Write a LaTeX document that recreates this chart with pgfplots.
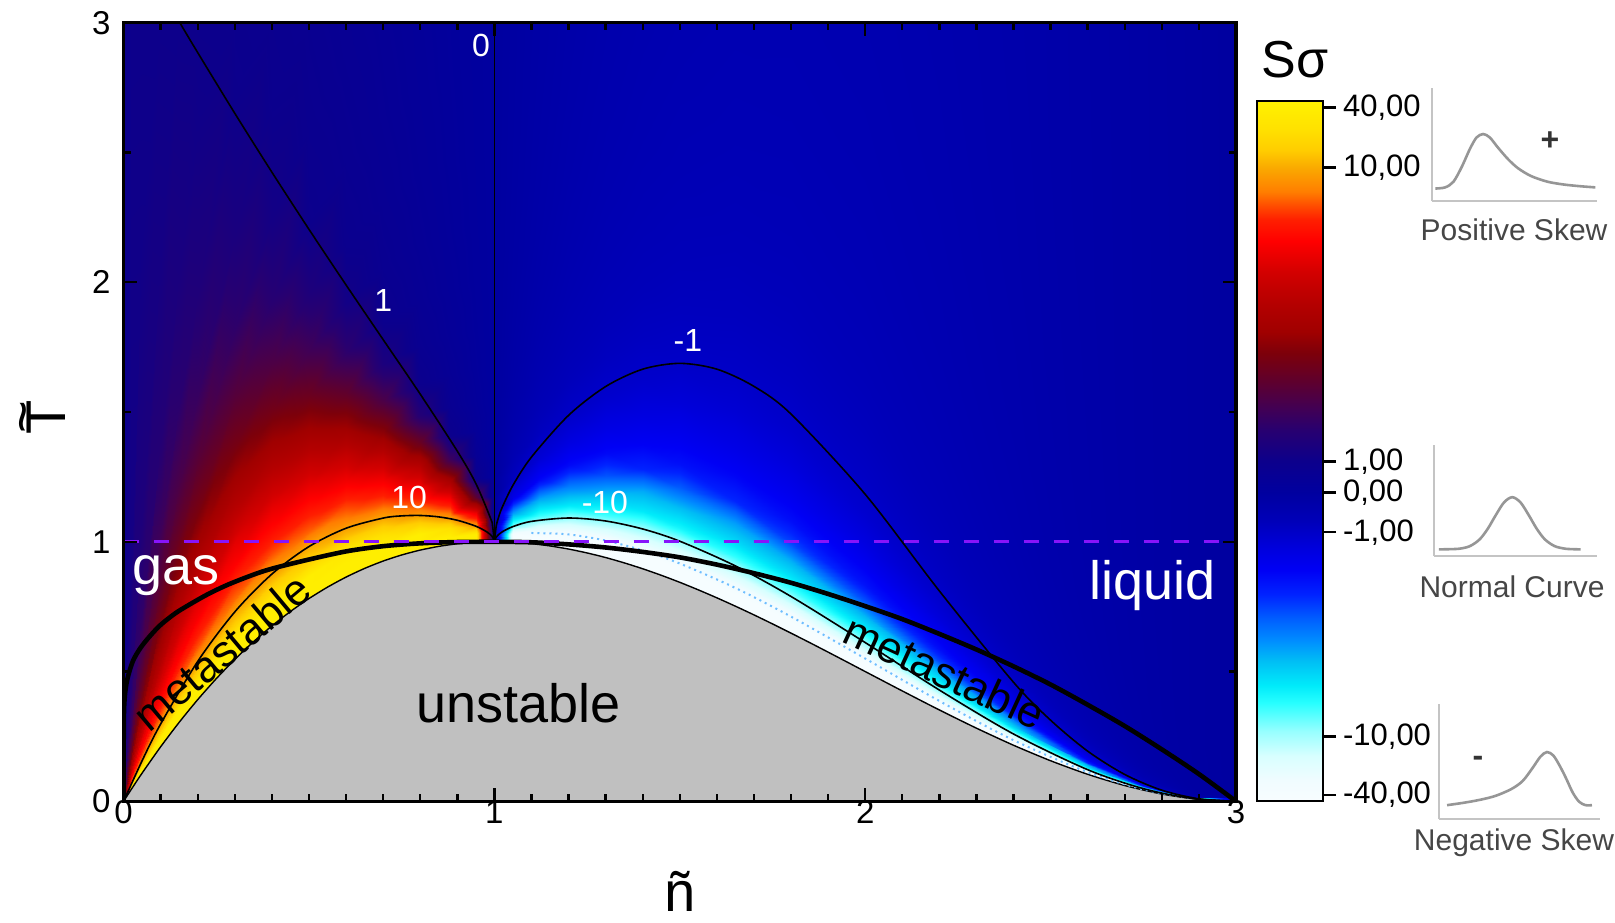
\documentclass[border=0pt]{standalone}
\usepackage{fontspec}
\setmainfont{Liberation Sans}
\usepackage{pgfplots}
\usepackage{pgfplotstable}
\pgfplotsset{compat=1.18}

\definecolor{unstablegray}{RGB}{192,192,192}
\definecolor{critline}{RGB}{135,20,250}
\definecolor{deepdot}{RGB}{110,190,255}
\definecolor{insetaxis}{RGB}{196,196,196}
\definecolor{insetcurve}{RGB}{150,150,150}
\definecolor{insettext}{RGB}{70,70,70}

% colour scale, positions along the bar (0 = bottom, 1000 = top)
\pgfplotsset{
  colormap={skew}{
    rgb255(0pt)=(248,253,255) rgb255(30pt)=(240,252,255) rgb255(65pt)=(215,255,255)
    rgb255(100pt)=(150,255,255) rgb255(140pt)=(40,255,255) rgb255(165pt)=(0,235,250)
    rgb255(200pt)=(0,190,245) rgb255(230pt)=(0,140,255) rgb255(260pt)=(0,95,255)
    rgb255(295pt)=(0,35,255) rgb255(330pt)=(0,0,245) rgb255(360pt)=(0,0,222)
    rgb255(400pt)=(0,0,185) rgb255(440pt)=(0,0,160) rgb255(485pt)=(12,0,140)
    rgb255(530pt)=(40,0,112) rgb255(560pt)=(65,0,85) rgb255(600pt)=(95,0,45)
    rgb255(640pt)=(125,0,10) rgb255(670pt)=(160,0,0) rgb255(710pt)=(180,0,0)
    rgb255(755pt)=(210,0,0) rgb255(800pt)=(255,0,0) rgb255(830pt)=(255,30,0)
    rgb255(850pt)=(255,75,0) rgb255(870pt)=(255,125,0) rgb255(905pt)=(250,170,0)
    rgb255(930pt)=(255,205,0) rgb255(960pt)=(255,225,0) rgb255(1000pt)=(255,242,0)
  }
}

% S sigma over the (n, T) plane, one scanline per density
\pgfplotstableread{
n t s
0 3.05 1
0 0.888 1
0 0.444 1
0 0.296 1
0 0.222 1
0 0.1776 1
0 0.148 1
0 0.1269 1
0 0.111 1
0 0.0987 1
0 0.0888 1
0 0.0807 1
0 0.074 1
0 0.0683 1
0 0.0634 1
0 0.0592 1
0 0.0555 1
0 0.0522 1
0 0.0493 1
0 0.0472 1
0 0.0458 1
0 0.0448 1
0 0 1
0.02 3.05 1.0024
0.02 0.888 1.0786
0.02 0.444 1.2018
0.02 0.296 1.3474
0.02 0.222 1.521
0.02 0.1776 1.7306
0.02 0.148 1.9867
0.02 0.1269 2.3041
0.02 0.111 2.7041
0.02 0.0987 3.2181
0.02 0.0888 3.8939
0.02 0.0807 4.8073
0.02 0.074 6.0842
0.02 0.0683 7.9467
0.02 0.0634 10.816
0.02 0.0592 15.576
0.02 0.0555 24.337
0.02 0.0522 43.265
0.02 0.0493 97.35
0.02 0.0472 270.4
0.02 0.0458 1081.6
0.02 0.0448 9734.7
0.02 0.0444 9999
0.05 3.05 1.0045
0.05 2.1756 1.0351
0.05 1.0878 1.1533
0.05 0.7252 1.293
0.05 0.5439 1.4596
0.05 0.4351 1.6608
0.05 0.3626 1.9065
0.05 0.3108 2.2111
0.05 0.272 2.5949
0.05 0.2417 3.0882
0.05 0.2176 3.7367
0.05 0.1978 4.6132
0.05 0.1813 5.8386
0.05 0.1674 7.6259
0.05 0.1554 10.38
0.05 0.145 14.947
0.05 0.136 23.354
0.05 0.128 41.519
0.05 0.1209 93.42
0.05 0.1157 259.5
0.05 0.1121 1038
0.05 0.1099 9342
0.05 0.1088 9999
0.1 3.05 1.0036
0.1 3.05 1.0036
0.1 2.1025 1.0741
0.1 1.4017 1.2042
0.1 1.0513 1.3594
0.1 0.841 1.5467
0.1 0.7008 1.7755
0.1 0.6007 2.0592
0.1 0.5256 2.4167
0.1 0.4672 2.876
0.1 0.4205 3.48
0.1 0.3823 4.2963
0.1 0.3504 5.4375
0.1 0.3235 7.1021
0.1 0.3004 9.6667
0.1 0.2803 13.92
0.1 0.2628 21.75
0.1 0.2474 38.667
0.1 0.2336 87
0.1 0.2237 241.7
0.1 0.2168 966.7
0.1 0.2124 8700
0.1 0.2103 9999
0.15 3.05 0.9966
0.15 3.05 0.9966
0.15 3.046 0.9969
0.15 2.0306 1.1177
0.15 1.523 1.2617
0.15 1.2184 1.4356
0.15 1.0153 1.6479
0.15 0.8703 1.9113
0.15 0.7615 2.2431
0.15 0.6769 2.6694
0.15 0.6092 3.23
0.15 0.5538 3.9877
0.15 0.5077 5.0469
0.15 0.4686 6.5919
0.15 0.4351 8.9722
0.15 0.4061 12.92
0.15 0.3807 20.188
0.15 0.3583 35.889
0.15 0.3384 80.75
0.15 0.324 224.3
0.15 0.314 897.2
0.15 0.3077 8075
0.15 0.3046 9999
0.2 3.05 0.9831
0.2 3.05 0.9831
0.2 3.05 0.9831
0.2 2.6133 1.0335
0.2 1.96 1.1667
0.2 1.568 1.3274
0.2 1.3067 1.5238
0.2 1.12 1.7673
0.2 0.98 2.0741
0.2 0.8711 2.4683
0.2 0.784 2.9867
0.2 0.7127 3.6873
0.2 0.6533 4.6667
0.2 0.6031 6.0953
0.2 0.56 8.2963
0.2 0.5227 11.947
0.2 0.49 18.667
0.2 0.4612 33.185
0.2 0.4356 74.67
0.2 0.417 207.4
0.2 0.4041 829.6
0.2 0.396 7467
0.2 0.392 9999
0.3 3.05 0.9353
0.3 3.05 0.9353
0.3 3.05 0.9353
0.3 3.05 0.9353
0.3 2.7338 0.9844
0.3 2.187 1.12
0.3 1.8225 1.2857
0.3 1.5621 1.4911
0.3 1.3669 1.75
0.3 1.215 2.0827
0.3 1.0935 2.52
0.3 0.9941 3.1111
0.3 0.9113 3.9375
0.3 0.8412 5.1429
0.3 0.7811 7.0
0.3 0.729 10.08
0.3 0.6834 15.75
0.3 0.6432 28.0
0.3 0.6075 63
0.3 0.5816 175
0.3 0.5637 700
0.3 0.5523 6300
0.3 0.5468 9999
0.4 3.05 0.8583
0.4 3.05 0.8583
0.4 3.05 0.8583
0.4 3.05 0.8583
0.4 3.05 0.8583
0.4 2.704 0.9244
0.4 2.2533 1.0612
0.4 1.9314 1.2308
0.4 1.69 1.4444
0.4 1.5022 1.719
0.4 1.352 2.08
0.4 1.2291 2.5679
0.4 1.1267 3.25
0.4 1.04 4.2449
0.4 0.9657 5.7778
0.4 0.9013 8.32
0.4 0.845 13
0.4 0.7953 23.111
0.4 0.7511 52
0.4 0.7191 144.4
0.4 0.6969 577.8
0.4 0.6828 5200
0.4 0.676 9999
0.5 3.05 0.753
0.5 3.05 0.753
0.5 3.05 0.753
0.5 3.05 0.753
0.5 3.05 0.753
0.5 3.05 0.753
0.5 2.6042 0.8503
0.5 2.2321 0.9862
0.5 1.9531 1.1574
0.5 1.7361 1.3774
0.5 1.5625 1.6667
0.5 1.4205 2.0576
0.5 1.3021 2.6042
0.5 1.2019 3.4014
0.5 1.1161 4.6296
0.5 1.0417 6.6667
0.5 0.9766 10.417
0.5 0.9191 18.518
0.5 0.8681 41.67
0.5 0.8311 115.7
0.5 0.8054 463
0.5 0.7891 4167
0.5 0.7813 9999
0.6 3.05 0.6229
0.6 3.05 0.6229
0.6 3.05 0.6229
0.6 3.05 0.6229
0.6 3.05 0.6229
0.6 3.05 0.6229
0.6 2.88 0.6531
0.6 2.4686 0.7574
0.6 2.16 0.8889
0.6 1.92 1.0579
0.6 1.728 1.28
0.6 1.5709 1.5803
0.6 1.44 2.0
0.6 1.3292 2.6122
0.6 1.2343 3.5556
0.6 1.152 5.12
0.6 1.08 8.0
0.6 1.0165 14.222
0.6 0.96 32
0.6 0.9191 88.89
0.6 0.8907 355.6
0.6 0.8727 3200
0.6 0.864 9999
0.7 3.05 0.4742
0.7 3.05 0.4742
0.7 3.05 0.4742
0.7 3.05 0.4742
0.7 3.05 0.4742
0.7 3.05 0.4742
0.7 3.05 0.4742
0.7 2.645 0.5444
0.7 2.3144 0.6389
0.7 2.0572 0.7603
0.7 1.8515 0.92
0.7 1.6832 1.1358
0.7 1.5429 1.4375
0.7 1.4242 1.8776
0.7 1.3225 2.5556
0.7 1.2343 3.68
0.7 1.1572 5.75
0.7 1.0891 10.222
0.7 1.0286 23
0.7 0.9848 63.89
0.7 0.9544 255.6
0.7 0.9351 2300
0.7 0.9258 9999
0.8 3.05 0.3148
0.8 3.05 0.3148
0.8 3.05 0.3148
0.8 3.05 0.3148
0.8 3.05 0.3148
0.8 3.05 0.3148
0.8 3.05 0.3148
0.8 2.7657 0.3471
0.8 2.42 0.4074
0.8 2.1511 0.4849
0.8 1.936 0.5867
0.8 1.76 0.7243
0.8 1.6133 0.9167
0.8 1.4892 1.1973
0.8 1.3829 1.6297
0.8 1.2907 2.3467
0.8 1.21 3.6667
0.8 1.1388 6.5185
0.8 1.0756 14.667
0.8 1.0298 40.74
0.8 0.9979 163
0.8 0.9778 1467
0.8 0.968 9999
0.88 3.05 0.1857
0.88 3.05 0.1857
0.88 3.05 0.1857
0.88 3.05 0.1857
0.88 3.05 0.1857
0.88 3.05 0.1857
0.88 3.05 0.1857
0.88 2.8251 0.2007
0.88 2.4719 0.2356
0.88 2.1973 0.2803
0.88 1.9775 0.3392
0.88 1.7978 0.4188
0.88 1.648 0.53
0.88 1.5212 0.6922
0.88 1.4125 0.9422
0.88 1.3184 1.3568
0.88 1.236 2.12
0.88 1.1633 3.7689
0.88 1.0986 8.48
0.88 1.0519 23.56
0.88 1.0194 94.22
0.88 0.9988 848
0.88 0.9888 9999
0.95 3.05 0.0755
0.95 3.05 0.0755
0.95 3.05 0.0755
0.95 3.05 0.0755
0.95 3.05 0.0755
0.95 3.05 0.0755
0.95 3.05 0.0755
0.95 2.8517 0.0809
0.95 2.4952 0.0949
0.95 2.218 0.1129
0.95 1.9962 0.1367
0.95 1.8147 0.1687
0.95 1.6635 0.2135
0.95 1.5355 0.2789
0.95 1.4258 0.3796
0.95 1.3308 0.5467
0.95 1.2476 0.8542
0.95 1.1742 1.5185
0.95 1.109 3.4167
0.95 1.0618 9.4908
0.95 1.029 37.96
0.95 1.0082 341.7
0.95 0.9981 9999
1 3.05 0
1 3.05 0
1 3.05 0
1 3.05 0
1 3.05 0
1 3.05 0
1 3.05 0
1 2.8571 0
1 2.5 0
1 2.2222 0
1 2 0
1 1.8182 0
1 1.6667 0
1 1.5385 0
1 1.4286 0
1 1.3333 0
1 1.25 0
1 1.1765 0
1 1.1111 0
1 1.0638 0
1 1.0309 0
1 1.0101 0
1 1 0
1.05 3.05 -0.0718
1.05 3.05 -0.0718
1.05 3.05 -0.0718
1.05 3.05 -0.0718
1.05 3.05 -0.0718
1.05 3.05 -0.0718
1.05 3.05 -0.0718
1.05 2.8519 -0.0769
1.05 2.4954 -0.0903
1.05 2.2181 -0.1074
1.05 1.9963 -0.13
1.05 1.8148 -0.1605
1.05 1.6636 -0.2031
1.05 1.5356 -0.2653
1.05 1.4259 -0.3611
1.05 1.3309 -0.52
1.05 1.2477 -0.8125
1.05 1.1743 -1.4444
1.05 1.1091 -3.25
1.05 1.0619 -9.0278
1.05 1.029 -36.11
1.05 1.0083 -325
1.05 0.9982 -9999
1.12 3.05 -0.1648
1.12 3.05 -0.1648
1.12 3.05 -0.1648
1.12 3.05 -0.1648
1.12 3.05 -0.1648
1.12 3.05 -0.1648
1.12 3.05 -0.1648
1.12 2.8275 -0.178
1.12 2.4741 -0.2089
1.12 2.1992 -0.2486
1.12 1.9793 -0.3008
1.12 1.7993 -0.3714
1.12 1.6494 -0.47
1.12 1.5225 -0.6139
1.12 1.4138 -0.8356
1.12 1.3195 -1.2032
1.12 1.237 -1.88
1.12 1.1643 -3.3422
1.12 1.0996 -7.52
1.12 1.0528 -20.889
1.12 1.0202 -83.56
1.12 0.9996 -752
1.12 0.9896 -9999
1.2 3.05 -0.2585
1.2 3.05 -0.2585
1.2 3.05 -0.2585
1.2 3.05 -0.2585
1.2 3.05 -0.2585
1.2 3.05 -0.2585
1.2 3.05 -0.2585
1.2 2.7771 -0.284
1.2 2.43 -0.3333
1.2 2.16 -0.3967
1.2 1.944 -0.48
1.2 1.7673 -0.5926
1.2 1.62 -0.75
1.2 1.4954 -0.9796
1.2 1.3886 -1.3333
1.2 1.296 -1.92
1.2 1.215 -3.0
1.2 1.1435 -5.3333
1.2 1.08 -12
1.2 1.034 -33.33
1.2 1.002 -133.3
1.2 0.9818 -1200
1.2 0.972 -9999
1.3 3.05 -0.355
1.3 3.05 -0.355
1.3 3.05 -0.355
1.3 3.05 -0.355
1.3 3.05 -0.355
1.3 3.05 -0.355
1.3 3.05 -0.355
1.3 2.6836 -0.4024
1.3 2.3481 -0.4722
1.3 2.0872 -0.562
1.3 1.8785 -0.68
1.3 1.7077 -0.8395
1.3 1.5654 -1.0625
1.3 1.445 -1.3878
1.3 1.3418 -1.8889
1.3 1.2523 -2.72
1.3 1.1741 -4.25
1.3 1.105 -7.5556
1.3 1.0436 -17
1.3 0.9992 -47.22
1.3 0.9683 -188.9
1.3 0.9487 -1700
1.3 0.9393 -9999
1.4 3.05 -0.4277
1.4 3.05 -0.4277
1.4 3.05 -0.4277
1.4 3.05 -0.4277
1.4 3.05 -0.4277
1.4 3.05 -0.4277
1.4 2.9867 -0.4354
1.4 2.56 -0.5049
1.4 2.24 -0.5926
1.4 1.9911 -0.7052
1.4 1.792 -0.8533
1.4 1.6291 -1.0535
1.4 1.4933 -1.3333
1.4 1.3785 -1.7415
1.4 1.28 -2.3704
1.4 1.1947 -3.4133
1.4 1.12 -5.3333
1.4 1.0541 -9.4815
1.4 0.9956 -21.333
1.4 0.9532 -59.26
1.4 0.9237 -237
1.4 0.9051 -2133
1.4 0.896 -9999
1.5 3.05 -0.4778
1.5 3.05 -0.4778
1.5 3.05 -0.4778
1.5 3.05 -0.4778
1.5 3.05 -0.4778
1.5 3.05 -0.4778
1.5 2.8125 -0.5102
1.5 2.4107 -0.5917
1.5 2.1094 -0.6944
1.5 1.875 -0.8264
1.5 1.6875 -1
1.5 1.5341 -1.2346
1.5 1.4063 -1.5625
1.5 1.2981 -2.0408
1.5 1.2054 -2.7778
1.5 1.125 -4
1.5 1.0547 -6.25
1.5 0.9926 -11.111
1.5 0.9375 -25
1.5 0.8976 -69.44
1.5 0.8698 -277.8
1.5 0.8523 -2500
1.5 0.8438 -9999
1.65 3.05 -0.5153
1.65 3.05 -0.5153
1.65 3.05 -0.5153
1.65 3.05 -0.5153
1.65 3.05 -0.5153
1.65 3.0071 -0.52
1.65 2.5059 -0.5969
1.65 2.1479 -0.6923
1.65 1.8795 -0.8125
1.65 1.6706 -0.9669
1.65 1.5036 -1.17
1.65 1.3669 -1.4444
1.65 1.253 -1.8281
1.65 1.1566 -2.3878
1.65 1.074 -3.25
1.65 1.0024 -4.68
1.65 0.9397 -7.3125
1.65 0.8844 -13
1.65 0.8353 -29.25
1.65 0.7998 -81.25
1.65 0.775 -325
1.65 0.7594 -2925
1.65 0.7518 -9999
1.8 3.05 -0.516
1.8 3.05 -0.516
1.8 3.05 -0.516
1.8 3.05 -0.516
1.8 3.05 -0.516
1.8 2.592 -0.5689
1.8 2.16 -0.6531
1.8 1.8514 -0.7574
1.8 1.62 -0.8889
1.8 1.44 -1.0579
1.8 1.296 -1.28
1.8 1.1782 -1.5802
1.8 1.08 -2
1.8 0.9969 -2.6122
1.8 0.9257 -3.5556
1.8 0.864 -5.12
1.8 0.81 -8
1.8 0.7624 -14.222
1.8 0.72 -32
1.8 0.6894 -88.89
1.8 0.668 -355.6
1.8 0.6545 -3200
1.8 0.648 -9999
2 3.05 -0.4769
2 3.05 -0.4769
2 3.05 -0.4769
2 3.05 -0.4769
2 2.5 -0.5208
2 2 -0.5926
2 1.6667 -0.6803
2 1.4286 -0.789
2 1.25 -0.9259
2 1.1111 -1.1019
2 1 -1.3333
2 0.9091 -1.6461
2 0.8333 -2.0833
2 0.7692 -2.7211
2 0.7143 -3.7037
2 0.6667 -5.3333
2 0.625 -8.3333
2 0.5882 -14.815
2 0.5556 -33.33
2 0.5319 -92.59
2 0.5155 -370.4
2 0.5051 -3333
2 0.5 -9999
2.2 3.05 -0.409
2.2 3.05 -0.409
2.2 3.05 -0.409
2.2 2.3467 -0.4429
2.2 1.76 -0.5
2.2 1.408 -0.5689
2.2 1.1733 -0.6531
2.2 1.0057 -0.7574
2.2 0.88 -0.8889
2.2 0.7822 -1.0579
2.2 0.704 -1.28
2.2 0.64 -1.5802
2.2 0.5867 -2
2.2 0.5415 -2.6122
2.2 0.5029 -3.5556
2.2 0.4693 -5.12
2.2 0.44 -8
2.2 0.4141 -14.222
2.2 0.3911 -32
2.2 0.3745 -88.89
2.2 0.3629 -355.6
2.2 0.3556 -3200
2.2 0.352 -9999
2.4 3.05 -0.3243
2.4 3.05 -0.3243
2.4 2.16 -0.3457
2.4 1.44 -0.3875
2.4 1.08 -0.4375
2.4 0.864 -0.4978
2.4 0.72 -0.5714
2.4 0.6171 -0.6627
2.4 0.54 -0.7778
2.4 0.48 -0.9256
2.4 0.432 -1.12
2.4 0.3927 -1.3827
2.4 0.36 -1.75
2.4 0.3323 -2.2857
2.4 0.3086 -3.1111
2.4 0.288 -4.48
2.4 0.27 -7
2.4 0.2541 -12.444
2.4 0.24 -28
2.4 0.2298 -77.78
2.4 0.2227 -311.1
2.4 0.2182 -2800
2.4 0.216 -9999
2.6 3.05 -0.2287
2.6 2.08 -0.2364
2.6 1.04 -0.2634
2.6 0.6933 -0.2953
2.6 0.52 -0.3333
2.6 0.416 -0.3793
2.6 0.3467 -0.4354
2.6 0.2971 -0.5049
2.6 0.26 -0.5926
2.6 0.2311 -0.7052
2.6 0.208 -0.8533
2.6 0.1891 -1.0535
2.6 0.1733 -1.3333
2.6 0.16 -1.7415
2.6 0.1486 -2.3704
2.6 0.1387 -3.4133
2.6 0.13 -5.3333
2.6 0.1224 -9.4815
2.6 0.1156 -21.333
2.6 0.1106 -59.26
2.6 0.1072 -237
2.6 0.1051 -2133
2.6 0.104 -9999
2.75 3.05 -0.15
2.75 0.8594 -0.1616
2.75 0.4297 -0.18
2.75 0.2865 -0.2018
2.75 0.2148 -0.2279
2.75 0.1719 -0.2593
2.75 0.1432 -0.2976
2.75 0.1228 -0.3452
2.75 0.1074 -0.4051
2.75 0.0955 -0.4821
2.75 0.0859 -0.5833
2.75 0.0781 -0.7202
2.75 0.0716 -0.9115
2.75 0.0661 -1.1905
2.75 0.0614 -1.6204
2.75 0.0573 -2.3333
2.75 0.0537 -3.6458
2.75 0.0506 -6.4815
2.75 0.0477 -14.583
2.75 0.0457 -40.51
2.75 0.0443 -162
2.75 0.0434 -1458
2.75 0.043 -9999
2.88 3.05 -0.0757
2.88 0.2074 -0.0833
2.88 0.1037 -0.0928
2.88 0.0691 -0.1041
2.88 0.0518 -0.1175
2.88 0.0415 -0.1337
2.88 0.0346 -0.1535
2.88 0.0296 -0.178
2.88 0.0259 -0.2089
2.88 0.023 -0.2486
2.88 0.0207 -0.3008
2.88 0.0189 -0.3714
2.88 0.0173 -0.47
2.88 0.016 -0.6139
2.88 0.0148 -0.8356
2.88 0.0138 -1.2032
2.88 0.013 -1.88
2.88 0.0122 -3.3422
2.88 0.0115 -7.52
2.88 0.011 -20.89
2.88 0.0107 -83.56
2.88 0.0105 -752
2.88 0.0104 -9999
3 3.05 0
3 0.2074 0
3 0.1037 0
3 0.0691 0
3 0.0518 0
3 0.0415 0
3 0.0346 0
3 0.0296 0
3 0.0259 0
3 0.023 0
3 0.0207 0
3 0.0189 0
3 0.0173 0
3 0.016 0
3 0.0148 0
3 0.0138 0
3 0.013 0
3 0.0122 0
3 0.0115 0
3 0.011 0
3 0.0107 0
3 0.0105 0
3 0 0
}\skewfield

\newcommand{\sv}{\thisrow{s}}
\newcommand{\Ttilde}{\ooalign{T\cr\hidewidth\raisebox{0.42em}{\textasciitilde}\hidewidth\cr}}

\pgfplotsset{
  inset/.style={
    scale only axis, axis lines=left,
    axis line style={-, draw=insetaxis, line width=1.4pt},
    xmin=0, xmax=1, ymin=0, ymax=1,
    xtick=\empty, ytick=\empty, clip=false,
  },
}

\begin{document}
\begin{tikzpicture}
\useasboundingbox (0pt,0pt) rectangle (807.5pt,-461pt);

\begin{axis}[
  at={(61.8pt,-400.65pt)}, anchor=south west,
  scale only axis, width=556.2pt, height=389.3pt,
  xmin=0, xmax=3, ymin=0, ymax=3,
  xtick={0,1,2,3}, ytick={0,1,2,3},
  minor x tick num=9, minor y tick num=1,
  tick align=inside,
  major tick length=6.5pt, minor tick length=3.5pt,
  every tick/.append style={black, line width=1.2pt},
  axis line style={black, line width=1.6pt},
  axis on top,
  axis background/.style={fill=white},
  tick label style={font=\fontsize{16.5}{18}\selectfont},
  /pgf/number format/assume math mode=true,
  xticklabel style={yshift=4pt},
  yticklabel style={xshift=-3pt},
  point meta min=0, point meta max=1000,
  colormap name=skew,
]

% skewness field, coloured on the bar's scale
\addplot[surf, shader=interp, mesh/cols=23, mesh/rows=30, point meta=explicit]
  table[x=n, y=t,
  meta expr={ifthenelse(\sv>=10, 905+62.03*ln(max(min(\sv,40),10)/10),
    ifthenelse(\sv>=5, 835+14*(\sv-5),
    ifthenelse(\sv>=3, 770+32.5*(\sv-3),
    ifthenelse(\sv>=2.2, 700+87.5*(\sv-2.2),
    ifthenelse(\sv>=1.8, 640+150*(\sv-1.8),
    ifthenelse(\sv>=1.5, 590+166.7*(\sv-1.5),
    ifthenelse(\sv>=1.3, 540+250*(\sv-1.3),
    ifthenelse(\sv>=1, 485+183.3*(\sv-1),
    ifthenelse(\sv>=0, 441+44*\sv,
    ifthenelse(\sv>=-1, 441+57*\sv,
    ifthenelse(\sv>=-1.6, 384+76.67*(\sv+1),
    ifthenelse(\sv>=-2.3, 338+51.43*(\sv+1.6),
    ifthenelse(\sv>=-3.3, 302+87*(\sv+2.3),
    ifthenelse(\sv>=-5, 215+25.29*(\sv+3.3),
    ifthenelse(\sv>=-10, 172+16*(\sv+5),
    92-60.24*ln(max(min(abs(\sv),40),10)/10))))))))))))))))}]
  {\skewfield};

% unstable region below the spinodal
\addplot[fill=unstablegray, draw=none, smooth, tension=0.4] coordinates {
(0,0) (0.02,0.0444) (0.05,0.1088) (0.1,0.2103) (0.15,0.3046) (0.2,0.392) (0.25,0.4727)
(0.3,0.5468) (0.35,0.6145) (0.4,0.676) (0.45,0.7315) (0.5,0.7813) (0.55,0.8253) (0.6,0.864)
(0.65,0.8974) (0.7,0.9258) (0.75,0.9492) (0.8,0.968) (0.85,0.9823) (0.9,0.9923) (0.95,0.9981)
(1,1) (1.05,0.9982) (1.1,0.9928) (1.15,0.984) (1.2,0.972) (1.25,0.957) (1.3,0.9393)
(1.35,0.9188) (1.4,0.896) (1.45,0.8709) (1.5,0.8438) (1.55,0.8147) (1.6,0.784) (1.65,0.7518)
(1.7,0.7183) (1.75,0.6836) (1.8,0.648) (1.85,0.6117) (1.9,0.5748) (1.95,0.5375) (2,0.5)
(2.1,0.4253) (2.2,0.352) (2.3,0.2818) (2.4,0.216) (2.5,0.1563) (2.6,0.104) (2.7,0.0608)
(2.8,0.028) (2.9,0.0073) (3,0)} \closedcycle;

% spinodal
\addplot[black, line width=0.7pt, smooth, tension=0.4] coordinates {
(0,0) (0.02,0.0444) (0.05,0.1088) (0.1,0.2103) (0.15,0.3046) (0.2,0.392) (0.25,0.4727)
(0.3,0.5468) (0.35,0.6145) (0.4,0.676) (0.45,0.7315) (0.5,0.7813) (0.55,0.8253) (0.6,0.864)
(0.65,0.8974) (0.7,0.9258) (0.75,0.9492) (0.8,0.968) (0.85,0.9823) (0.9,0.9923) (0.95,0.9981)
(1,1) (1.05,0.9982) (1.1,0.9928) (1.15,0.984) (1.2,0.972) (1.25,0.957) (1.3,0.9393)
(1.35,0.9188) (1.4,0.896) (1.45,0.8709) (1.5,0.8438) (1.55,0.8147) (1.6,0.784) (1.65,0.7518)
(1.7,0.7183) (1.75,0.6836) (1.8,0.648) (1.85,0.6117) (1.9,0.5748) (1.95,0.5375) (2,0.5)
(2.1,0.4253) (2.2,0.352) (2.3,0.2818) (2.4,0.216) (2.5,0.1563) (2.6,0.104) (2.7,0.0608)
(2.8,0.028) (2.9,0.0073) (3,0)};

% contour -40 (dotted)
\addplot[deepdot, line width=1pt, dotted, smooth] coordinates {
(1.1,1.0339) (1.2,1.0283) (1.3,1.0048) (1.4,0.9666) (1.5,0.9162) (1.65,0.8221) (1.8,0.7117)
(2.0,0.5502) (2.2,0.3866) (2.4,0.2357) (2.6,0.1122) (2.75,0.0457) (2.88,0.0108)};

% contour 10
\addplot[black, line width=0.8pt, smooth, tension=0.5] coordinates {
(0,0) (0.05,0.1567) (0.1,0.2982) (0.2,0.5394) (0.3,0.73) (0.4,0.8757) (0.5,0.9816)
(0.6,1.0522) (0.7,1.0913) (0.75,1.0998) (0.8,1.1014) (0.85,1.0959) (0.9,1.0829)
(0.95,1.06) (0.98,1.0378) (0.995,1.0186) (1,1)};

% contour -10
\addplot[black, line width=0.8pt, smooth, tension=0.5] coordinates {
(1,1) (1.005,1.0186) (1.02,1.0374) (1.05,1.0585) (1.1,1.0786) (1.2,1.0916) (1.3,1.0801)
(1.4,1.0493) (1.5,1.0022) (1.65,0.9069) (1.8,0.7892) (2.0,0.6117) (2.2,0.4287)
(2.4,0.2594) (2.6,0.1218) (2.75,0.0489) (2.88,0.0114) (3,0)};

% contour 1
\addplot[black, line width=0.8pt, smooth, tension=0.5] coordinates {
(0.1,3.126) (0.15,3.004) (0.2,2.8845) (0.3,2.6507) (0.4,2.4239) (0.5,2.2038) (0.6,1.9894)
(0.7,1.7789) (0.8,1.5688) (0.9,1.3492) (0.95,1.2244) (0.99,1.0891) (0.995,1.0613) (1,1)};

% contour 0
\addplot[black, line width=0.8pt] coordinates {(1,1) (1,3)};

% contour -1
\addplot[black, line width=0.8pt, smooth, tension=0.5] coordinates {
(1,1) (1.005,1.0612) (1.01,1.0886) (1.02,1.1295) (1.05,1.2177) (1.1,1.3266) (1.2,1.4872)
(1.3,1.5982) (1.4,1.6651) (1.5,1.6875) (1.6,1.6651) (1.7,1.5988) (1.8,1.492) (2.0,1.183)
(2.2,0.8105) (2.4,0.4587) (2.5,0.3125) (2.6,0.1933) (2.7,0.1034) (2.8,0.0428)
(2.9,0.0097) (3,0)};

% binodal
\addplot[black, line width=2.3pt, smooth, tension=0.5] coordinates {
(0,0) (0.0005,0.3) (0.003,0.4) (0.01,0.47) (0.025,0.54) (0.045,0.59) (0.07,0.635)
(0.1,0.68) (0.14,0.725) (0.18,0.76) (0.23,0.8) (0.29,0.84) (0.38,0.888) (0.48,0.925)
(0.6,0.963) (0.7,0.983) (0.8,0.994) (0.9,0.999) (1,1) (1.1,0.998) (1.2,0.99) (1.3,0.978)
(1.4,0.961) (1.5,0.94) (1.6,0.912) (1.7,0.879) (1.8,0.842) (1.9,0.799) (2.0,0.752)
(2.1,0.702) (2.2,0.645) (2.3,0.585) (2.4,0.52) (2.5,0.45) (2.6,0.372) (2.7,0.29)
(2.8,0.2) (2.9,0.105) (3,0)};

% critical temperature
\addplot[critline, line width=1.6pt, dash pattern=on 7.5pt off 7.5pt] coordinates {(0,1) (3,1)};

% region names
\node[anchor=base, text=white, font=\fontsize{27}{27}\selectfont] at (axis cs:0.141,0.834) {gas};
\node[anchor=base, text=white, font=\fontsize{27}{27}\selectfont] at (axis cs:2.776,0.776) {liquid};
\node[anchor=base, text=black, font=\fontsize{27}{27}\selectfont] at (axis cs:1.065,0.302) {unstable};
\node[rotate=40, text=black, font=\fontsize{22}{22}\selectfont] at (axis cs:0.264,0.575) {metastable};
\node[rotate=-24.7, text=black, font=\fontsize{22}{22}\selectfont] at (axis cs:2.215,0.499) {metastable};

% contour values
\node[text=white, font=\fontsize{16}{16}\selectfont] at (axis cs:0.964,2.911) {0};
\node[text=white, font=\fontsize{16}{16}\selectfont] at (axis cs:0.70,1.928) {1};
\node[text=white, font=\fontsize{16}{16}\selectfont] at (axis cs:1.522,1.777) {-1};
\node[text=white, font=\fontsize{16}{16}\selectfont] at (axis cs:0.77,1.171) {10};
\node[text=white, font=\fontsize{16}{16}\selectfont] at (axis cs:1.298,1.153) {-10};
\end{axis}

% colour bar
\begin{axis}[
  at={(628.5pt,-400.5pt)}, anchor=south west,
  scale only axis, width=33pt, height=350pt,
  xmin=0, xmax=1, ymin=0, ymax=1000,
  enlargelimits=false,
  xtick=\empty,
  ytick={8.5,92,384,441,485,905,991},
  yticklabels={{-40,00},{-10,00},{-1,00},{0,00},{1,00},{10,00},{40,00}},
  ytick pos=right, yticklabel pos=right,
  tick align=outside, major tick length=6.5pt,
  every tick/.append style={black, line width=1.2pt},
  axis line style={black, line width=1.3pt},
  yticklabel style={font=\fontsize{15.5}{17}\selectfont},
  colormap name=skew, point meta min=0, point meta max=1000,
  axis on top,
]
\addplot[surf, shader=interp, mesh/cols=3, point meta=explicit] table[x=x, y=y, meta=p] {
x y p
0 0 0
0.5 0 0
1 0 0
0 500 500
0.5 500 500
1 500 500
0 1000 1000
0.5 1000 1000
1 1000 1000
};
\end{axis}

% axis titles
\node[font=\fontsize{28}{28}\selectfont] at (340pt,-445.5pt) {ñ};
\node[rotate=90, font=\fontsize{28}{28}\selectfont] at (23pt,-208.5pt) {\Ttilde};
\node[font=\fontsize{26}{26}\selectfont] at (647.5pt,-30pt) {Sσ};

% distribution shapes
\begin{axis}[inset, at={(716pt,-100.5pt)}, anchor=south west, width=82.5pt, height=56.75pt]
\addplot[insetcurve, line width=1.3pt, smooth] coordinates {
(0.02,0.11) (0.08,0.12) (0.13,0.17) (0.18,0.3) (0.23,0.46) (0.27,0.56) (0.31,0.59)
(0.35,0.56) (0.40,0.47) (0.46,0.37) (0.52,0.29) (0.60,0.22) (0.70,0.17) (0.80,0.145)
(0.90,0.13) (0.99,0.12)};
\node[text=black!80, font=\fontsize{16}{16}\selectfont\bfseries] at (axis cs:0.715,0.53) {+};
\end{axis}

\begin{axis}[inset, at={(717pt,-278pt)}, anchor=south west, width=81.5pt, height=55.5pt]
\addplot[insetcurve, line width=1.3pt, smooth] coordinates {
(0.03,0.06) (0.15,0.065) (0.22,0.089) (0.28,0.15) (0.33,0.246) (0.38,0.371) (0.43,0.484)
(0.48,0.53) (0.53,0.484) (0.58,0.371) (0.63,0.246) (0.68,0.15) (0.74,0.089) (0.81,0.065)
(0.9,0.06)};
\end{axis}

\begin{axis}[inset, at={(719.5pt,-409.5pt)}, anchor=south west, width=80.5pt, height=57.75pt]
\addplot[insetcurve, line width=1.3pt, smooth] coordinates {
(0.05,0.12) (0.15,0.14) (0.25,0.165) (0.35,0.2) (0.45,0.26) (0.52,0.33) (0.58,0.44)
(0.63,0.54) (0.67,0.58) (0.71,0.55) (0.75,0.46) (0.79,0.35) (0.83,0.23) (0.87,0.15)
(0.91,0.12) (0.95,0.12)};
\node[text=black!80, font=\fontsize{16}{16}\selectfont\bfseries] at (axis cs:0.242,0.496) {-};
\end{axis}

\node[text=insettext, font=\fontsize{15}{15}\selectfont] at (757pt,-115pt) {Positive Skew};
\node[text=insettext, font=\fontsize{15}{15}\selectfont] at (756pt,-293.5pt) {Normal Curve};
\node[text=insettext, font=\fontsize{15}{15}\selectfont] at (757pt,-421.25pt) {Negative Skew};
\end{tikzpicture}
\end{document}
